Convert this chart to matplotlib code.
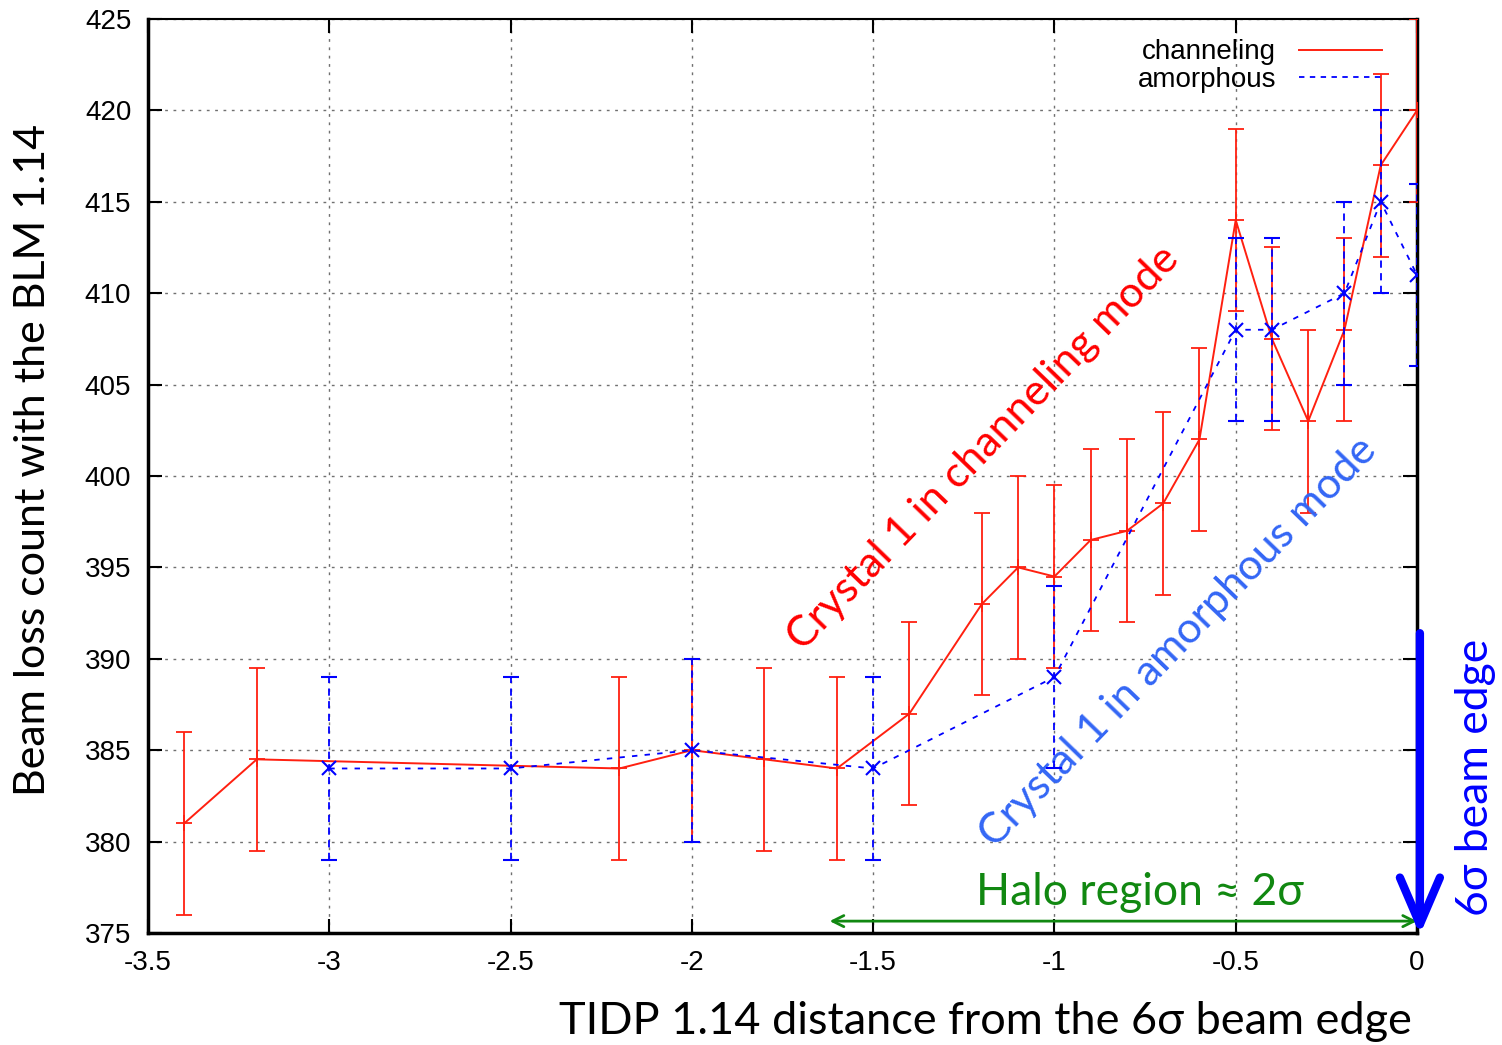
import matplotlib
matplotlib.use("Agg")
import matplotlib.pyplot as plt
from matplotlib.lines import Line2D

# channeling (crystal 1 in channeling mode)
ch_x = [-3.4, -3.2, -2.2, -2.0, -1.8, -1.6, -1.4, -1.2, -1.1, -1.0,
        -0.9, -0.8, -0.7, -0.6, -0.5, -0.4, -0.3, -0.2, -0.1, 0.0]
ch_y = [381, 384.5, 384, 385, 384.5, 384, 387, 393, 395, 394.5,
        396.5, 397, 398.5, 402, 414, 407.5, 403, 408, 417, 420]
ch_err = [5] * len(ch_x)

# amorphous
am_x = [-3.0, -2.5, -2.0, -1.5, -1.0, -0.5, -0.4, -0.2, -0.1, 0.0]
am_y = [384, 384, 385, 384, 389, 408, 408, 410, 415, 411]
am_err = [5] * len(am_x)

xticks = [-3.5, -3, -2.5, -2, -1.5, -1, -0.5, 0]
xtick_labels = ["-3.5", "-3", "-2.5", "-2", "-1.5", "-1", "-0.5", "0"]
yticks = list(range(375, 426, 5))

RED = "#ff2010"
BLUE = "#0000ff"
LBLUE = "#3366f5"
GREEN = "#118811"
HAND = ["Lato", "DejaVu Sans"]

plt.rcParams["font.family"] = ["Liberation Sans", "DejaVu Sans"]

fig = plt.figure(figsize=(15.02, 10.45), dpi=100)
ax = fig.add_axes([148 / 1502, 112 / 1045, 1269 / 1502, 914 / 1045])

# red series
ax.errorbar(ch_x, ch_y, yerr=ch_err, color=RED, lw=1.4, elinewidth=1.3,
            capsize=6, capthick=1.3, marker="+", ms=12, mew=1.3, zorder=3)

# blue series, dashed line and dashed error bars
eb2 = ax.errorbar(am_x, am_y, yerr=am_err, color=BLUE, lw=1.3, elinewidth=1.3,
                  capsize=6, capthick=1.3, marker="x", ms=10, mew=1.5,
                  ls=(0, (3, 4)), zorder=4)
for lc in eb2[2]:
    lc.set_linestyle((0, (4, 3)))

ax.set_xlim(-3.5, 0)
ax.set_ylim(375, 425)
ax.set_xticks(xticks)
ax.set_xticklabels(xtick_labels)
ax.set_yticks(yticks)
ax.tick_params(direction="in", length=10, width=1.5, top=True, right=True,
               labelsize=20)
ax.tick_params(axis="y", pad=12)
ax.tick_params(axis="x", pad=12)
ax.grid(True, color="#707070", ls=(0, (2, 4)), lw=1)
for s in ("left", "bottom", "right"):
    ax.spines[s].set_linewidth(2.5)
ax.spines["top"].set_linewidth(1.5)

# gnuplot-style key: text left, sample right
handles = [Line2D([], [], color=RED, lw=1.4),
           Line2D([], [], color=BLUE, lw=1.3, ls=(0, (3, 3)))]
ax.legend(handles, ["channeling", "amorphous"], loc="upper right",
          bbox_to_anchor=(0.992, 1.005), frameon=False, markerfirst=False,
          fontsize=20, handlelength=3.0, handletextpad=0.8, labelspacing=0.05)

# annotations
ax.text(-1.197, 401.5, "Crystal 1 in channeling mode", color="#ff0000",
        family=HAND, fontsize=31, rotation=46, rotation_mode="anchor",
        ha="center", va="center")
ax.text(-0.659, 390.9, "Crystal 1 in amorphous mode", color=LBLUE,
        family=HAND, fontsize=31, rotation=46, rotation_mode="anchor",
        ha="center", va="center")
ax.text(-0.764, 377.2, "Halo region \u2248 2\u03c3", color=GREEN,
        family=HAND, fontsize=32, ha="center", va="center")
ax.annotate("", xy=(-1.62, 375.65), xytext=(0, 375.65),
            arrowprops=dict(arrowstyle="<->,head_length=0.8,head_width=0.4",
                            color=GREEN, lw=2, shrinkA=0, shrinkB=0))
ax.annotate("", xy=(0.008, 374.9), xytext=(0.008, 391.4), annotation_clip=False,
            arrowprops=dict(arrowstyle="->,head_length=0.42,head_width=0.18",
                            color=BLUE, lw=6, mutation_scale=80,
                            shrinkA=0, shrinkB=0, capstyle="round",
                            joinstyle="round"), zorder=6)
ax.text(0.16, 383.5, "6\u03c3 beam edge", color=BLUE, family=HAND,
        fontsize=32, rotation=90, ha="center", va="center", clip_on=False)

fig.text(33 / 1502, 1 - 460 / 1045, "Beam loss count with the BLM 1.14",
         family=HAND, fontsize=31, rotation=90, ha="center", va="center")
fig.text(1412 / 1502, 1 - 1021 / 1045, "TIDP 1.14 distance from the 6\u03c3 beam edge",
         family=HAND, fontsize=32.5, ha="right", va="center")

fig.savefig("out.png", dpi=100)
